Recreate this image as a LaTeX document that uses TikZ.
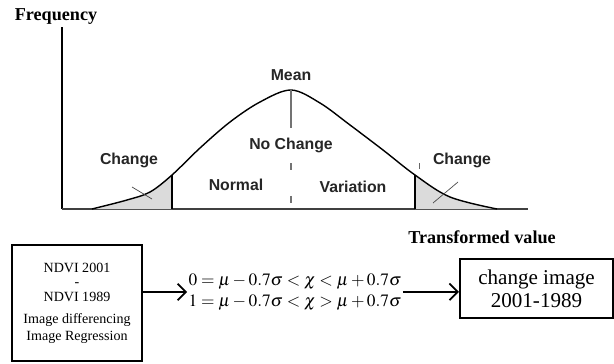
\documentclass[tikz,border=0pt]{standalone}
\usepackage{mathptmx}
\usepackage{fontspec}
\setmainfont{Liberation Serif}
\newfontfamily\graphsans{Liberation Sans}
\usetikzlibrary{arrows.meta}
\tikzset{
  axisline/.style={line width=1.6pt,draw=black},
  bellline/.style={line width=1.2pt,draw=black},
  cutline/.style={line width=1.6pt,draw=black},
  tailfill/.style={fill=black!14},
  pointer/.style={line width=0.6pt,draw=black!70},
  grlabel/.style={font=\graphsans\bfseries\fontsize{13.5}{15}\selectfont,text=black!85,inner sep=1pt},
  axislabel/.style={font=\bfseries\fontsize{15.5}{18}\selectfont,text=black,inner sep=1pt},
  boxbase/.style={draw=black,line width=1.6pt,align=center,inner sep=2pt},
  flowarrow/.style={-{Straight Barb[length=2.5mm,width=5mm]},line width=1.5pt},
}

\begin{document}
\begin{tikzpicture}[x=0.03cm,y=-0.03cm]
    \useasboundingbox (0,0) rectangle (614,364);

    % axes
    \draw[axisline] (62,27) -- (62,209);
    \draw[line width=1.2pt,black!75] (62,209) -- (528,209);
    \node[axislabel] (freq) at (56,17) {Frequency};
    \node[axislabel] (tval) at (482,237) {Transformed value};

    % bell curve and shaded tails
    \path[save path=\bellpath] plot[smooth,tension=0.55] coordinates {(92,209) (127,200) (150,192) (172,175) (200,148) (230,122) (260,102) (291,90) (320,103) (350,125) (383,150) (415,175) (450,197) (497,209)};
    \begin{scope}
      \clip (80,140) rectangle (172,209);
      \fill[tailfill,use path=\bellpath];
    \end{scope}
    \begin{scope}
      \clip (415,140) rectangle (510,209);
      \fill[tailfill,use path=\bellpath];
    \end{scope}
    \draw[bellline,use path=\bellpath];
    \draw[cutline] (172,209) -- (172,175);
    \draw[cutline] (415,209) -- (415,175);
    \draw[pointer,black!60] (419,163) -- (419,169);

    % mean line
    \draw[black!55,line width=1pt] (291,90) -- (291,128);
    \draw[black!55,line width=1pt,dash pattern=on 6pt off 22pt] (291,163) -- (291,209);

    \node[grlabel] (mean) at (291,75) {Mean};
    \node[grlabel] (nochange) at (291,145) {No Change};
    \node[grlabel] (normal) at (236,185) {Normal};
    \node[grlabel] (variation) at (353,187) {Variation};
    \node[grlabel] (lchange) at (129,160) {Change};
    \node[grlabel] (rchange) at (462,160) {Change};
    \draw[pointer] (132,187) -- (152,199);
    \draw[pointer] (458,182) -- (433,203);

    % flow below
    \node[boxbase,minimum width=3.9cm,minimum height=3.5cm,font=\fontsize{12}{14}\selectfont] (ndvi) at (77,303) {NDVI 2001\\[-2pt]-\\[-1pt]NDVI 1989\\[5pt]Image differencing\\Image Regression};
    \node[font=\fontsize{14.8}{18}\selectfont,align=left,inner sep=1pt] (eqs) at (295,292) {$0=\mu-0.7\sigma<\chi<\mu+0.7\sigma$\\$1=\mu-0.7\sigma<\chi>\mu+0.7\sigma$};
    \node[boxbase,minimum width=4.59cm,minimum height=1.77cm,font=\fontsize{18}{20}\selectfont] (chimg) at (536.5,288.5) {change image\\2001-1989};
    \draw[flowarrow] (ndvi.east |- eqs.west) -- (eqs.west);
    \draw[flowarrow] ([yshift=-0.1cm]eqs.east |- chimg.west) -- ([yshift=-0.1cm]chimg.west);
\end{tikzpicture}
\end{document}
